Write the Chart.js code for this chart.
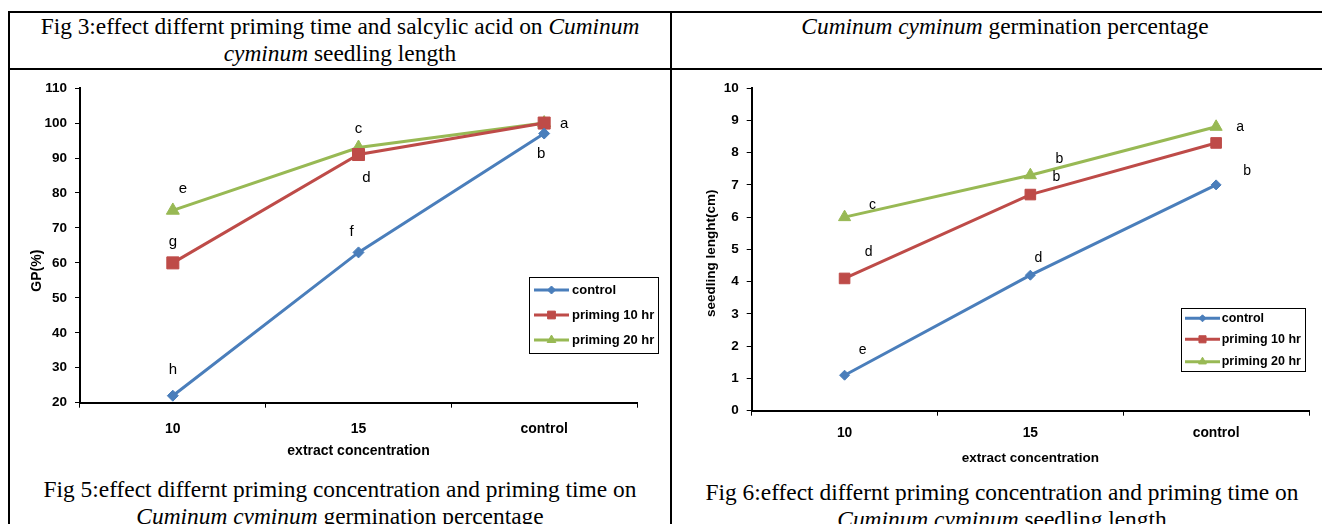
<!DOCTYPE html>
<html><head><meta charset="utf-8">
<script src="https://cdn.jsdelivr.net/npm/chart.js@4.4.0/dist/chart.umd.min.js"></script>
<style>
html,body{margin:0;padding:0;background:#fff;}
body{width:1322px;height:524px;position:relative;overflow:hidden;font-family:"Liberation Serif","Times New Roman",serif;}
.hl{position:absolute;background:#000;}
.txt{position:absolute;font-size:23.4px;line-height:27px;text-align:center;color:#000;white-space:nowrap;}
canvas{position:absolute;}
</style></head><body>
<div class="hl" style="left:8px;top:11px;width:1314px;height:2px"></div>
<div class="hl" style="left:8px;top:68px;width:1314px;height:1.5px"></div>
<div class="hl" style="left:8px;top:11px;width:2px;height:513px"></div>
<div class="hl" style="left:670px;top:11px;width:2px;height:513px"></div>
<div class="txt" style="left:10px;width:660px;top:13px">Fig 3:effect differnt priming time and salcylic acid on <i>Cuminum</i><br><i>cyminum</i> seedling length</div>
<div class="txt" style="left:672px;width:666px;top:13px"><i>Cuminum cyminum</i> germination percentage</div>
<div class="txt" style="left:10px;width:660px;top:476px">Fig 5:effect differnt priming concentration and priming time on<br><i>Cuminum cyminum</i> germination percentage</div>
<div class="txt" style="left:672px;width:660px;top:479px">Fig 6:effect differnt priming concentration and priming time on<br><i>Cuminum cyminum</i> seedling length</div>
<canvas id="c1" width="650" height="395" style="left:12px;top:72px;width:650px;height:395px"></canvas>
<canvas id="c2" width="640" height="400" style="left:680px;top:72px;width:640px;height:400px"></canvas>
<script>
// ---- data ----
const categories = ['10', '15', 'control'];
const seriesNames = ['control', 'priming 10 hr', 'priming 20 hr'];
const xTitle = 'extract concentration';

// Fig 5: germination percentage
const gpControl   = [22, 63, 97];
const gpPriming10 = [60, 91, 100];
const gpPriming20 = [75, 93, 100];
const gpLettersControl   = ['h', 'f', 'b'];
const gpLettersPriming10 = ['g', 'd', ''];
const gpLettersPriming20 = ['e', 'c', 'a'];
const gpYTitle = 'GP(%)';
const gpYMin = 20, gpYMax = 110, gpYStep = 10;

// Fig 6: seedling length
const slControl   = [1.1, 4.2, 7.0];
const slPriming10 = [4.1, 6.7, 8.3];
const slPriming20 = [6.0, 7.3, 8.8];
const slLettersControl   = ['e', 'd', 'b'];
const slLettersPriming10 = ['d', 'b', ''];
const slLettersPriming20 = ['c', 'b', 'a'];
const slYTitle = 'seedling lenght(cm)';
const slYMin = 0, slYMax = 10, slYStep = 1;

// ---- styles ----
const colors = ['#4A7EBB', '#BE4B48', '#98B954'];
const pStyles = ['rectRot', 'rect', 'triangle'];
const SANS = '"Liberation Sans", Arial, sans-serif';

const letterPlugin = {
  id: 'letters',
  afterDatasetsDraw(chart, args, o) {
    const ctx = chart.ctx;
    ctx.save();
    ctx.font = o.font; ctx.fillStyle = '#000';
    ctx.textAlign = 'center'; ctx.textBaseline = 'middle';
    chart.data.datasets.forEach((ds, i) => {
      const meta = chart.getDatasetMeta(i);
      ds.letters.forEach((t, j) => {
        if (!t) return;
        const p = meta.data[j];
        const off = o.offsets[i][j];
        ctx.fillText(t, p.x + off[0], p.y + off[1]);
      });
    });
    ctx.restore();
  }
};

const boxLegend = {
  id: 'boxLegend',
  afterDraw(chart, args, o) {
    const ctx = chart.ctx;
    ctx.save();
    ctx.fillStyle = '#fff';
    ctx.fillRect(o.x, o.y, o.w, o.h);
    ctx.strokeStyle = '#000'; ctx.lineWidth = 1;
    ctx.strokeRect(Math.round(o.x) + 0.5, Math.round(o.y) + 0.5, Math.round(o.w), Math.round(o.h));
    chart.data.datasets.forEach((ds, i) => {
      const y = o.y + o.rowY[i];
      ctx.strokeStyle = ds.borderColor; ctx.lineWidth = 3;
      ctx.beginPath(); ctx.moveTo(o.x + o.lineX0, y); ctx.lineTo(o.x + o.lineX1, y); ctx.stroke();
      ctx.fillStyle = ds.borderColor; ctx.lineWidth = 1;
      Chart.helpers.drawPoint(ctx, {pointStyle: ds.pointStyle, radius: o.markerR[i], borderWidth: 1, rotation: 0},
        o.x + (o.lineX0 + o.lineX1) / 2, y);
      ctx.fillStyle = '#000'; ctx.font = o.font;
      ctx.textAlign = 'left'; ctx.textBaseline = 'middle';
      ctx.fillText(ds.label, o.x + o.textX, y);
    });
    ctx.restore();
  }
};

function makeDatasets(series, letters, radii) {
  return series.map((vals, i) => ({
    label: seriesNames[i],
    data: vals,
    letters: letters[i],
    borderColor: colors[i],
    backgroundColor: colors[i],
    pointBackgroundColor: colors[i],
    pointBorderColor: colors[i],
    pointBorderWidth: 1,
    pointStyle: pStyles[i],
    pointRadius: radii[i],
    borderWidth: 3,
    tension: 0,
    clip: false
  }));
}

function makeChart(id, s) {
  const xf = {family: SANS, size: s.xFont, weight: 'bold'};
  const yf = {family: SANS, size: s.yFont, weight: 'bold'};
  const tf = {family: SANS, size: s.titleFont, weight: 'bold'};
  const grid = {display: true, drawOnChartArea: false, drawTicks: true, tickLength: 5, color: '#000', lineWidth: 1};
  const border = {display: true, color: '#000', width: 2};
  return new Chart(document.getElementById(id), {
    type: 'line',
    data: {labels: categories, datasets: makeDatasets(s.series, s.letters, s.radii)},
    plugins: [letterPlugin, boxLegend],
    options: {
      responsive: false, animation: false,
      layout: {padding: s.padding},
      plugins: {
        legend: {display: false}, tooltip: {enabled: false},
        letters: {font: s.letterFont, offsets: s.offsets},
        boxLegend: s.legend
      },
      scales: {
        x: {
          type: 'category', offset: true,
          grid: Object.assign({}, grid, {offset: true}),
          border: border,
          ticks: {color: '#000', font: xf, padding: s.xTickPad, maxRotation: 0},
          title: {display: true, text: xTitle, color: '#000', font: tf, padding: {top: 0, bottom: s.xTitlePad}},
          afterFit(sc) { sc.height = s.xHeight; }
        },
        y: {
          min: s.yMin, max: s.yMax,
          grid: grid, border: border,
          ticks: {stepSize: s.yStep, color: '#000', font: yf, padding: 8},
          title: {display: true, text: s.yTitle + ' '.repeat(s.yTitleShift), color: '#000', font: tf, padding: {top: s.yTitlePad, bottom: 0}},
          afterFit(sc) { sc.width = s.yWidth; }
        }
      }
    }
  });
}

makeChart('c1', {
  series: [gpControl, gpPriming10, gpPriming20],
  letters: [gpLettersControl, gpLettersPriming10, gpLettersPriming20],
  radii: [5.5, 8.5, 7.5],
  xFont: 14, yFont: 13.5, titleFont: 14,
  padding: {left: 0, right: 25, top: 15, bottom: 0},
  xHeight: 64.3, yWidth: 68, xTickPad: 13, xTitlePad: 7.6, yTitlePad: 16.6, yTitleShift: 13,
  yMin: gpYMin, yMax: gpYMax, yStep: gpYStep, yTitle: gpYTitle,
  letterFont: '15px ' + SANS,
  offsets: [[[0, -26], [-7, -21], [-3, 20]], [[0, -21], [8, 23], [0, 0]], [[10, -22], [0, -19], [20, 1]]],
  legend: {x: 517, y: 205, w: 129, h: 76, rowY: [13, 38, 63], lineX0: 5, lineX1: 40, textX: 43,
           markerR: [4, 5.5, 5], font: 'bold 13px ' + SANS}
});

makeChart('c2', {
  series: [slControl, slPriming10, slPriming20],
  letters: [slLettersControl, slLettersPriming10, slLettersPriming20],
  radii: [5, 7.5, 7],
  xFont: 13.8, yFont: 13.5, titleFont: 13.5,
  padding: {left: 0, right: 11, top: 13, bottom: 0},
  xHeight: 61.3, yWidth: 71.7, xTickPad: 9.2, xTitlePad: 5.9, yTitlePad: 23.6, yTitleShift: 2,
  yMin: slYMin, yMax: slYMax, yStep: slYStep, yTitle: slYTitle,
  letterFont: '14px ' + SANS,
  offsets: [[[18, -25], [8, -17], [31, -14]], [[24, -26], [26, -17], [0, 0]], [[28, -12], [29, -16], [24, 0]]],
  legend: {x: 500.7, y: 236.3, w: 124.3, h: 63.4, rowY: [10, 31, 53.4], lineX0: 4.3, lineX1: 39.3, textX: 41,
           markerR: [3.5, 5, 4.5], font: 'bold 12.5px ' + SANS}
});
</script>
</body></html>
